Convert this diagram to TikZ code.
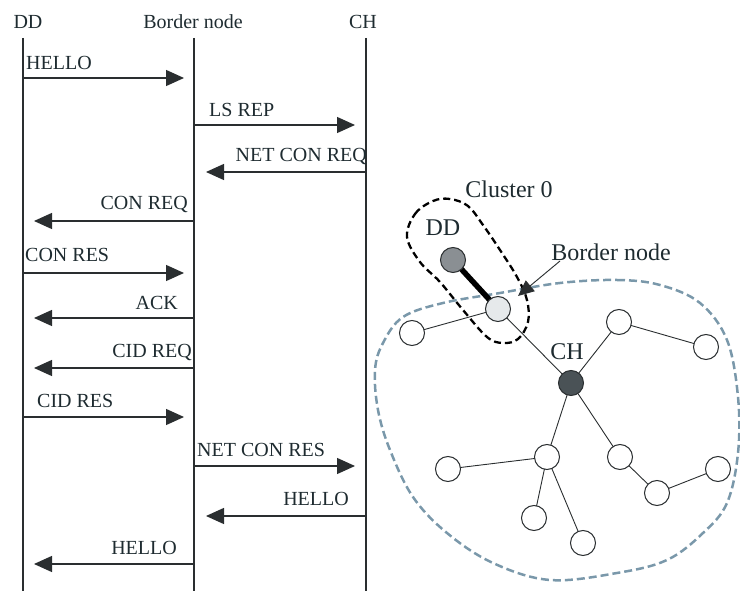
\documentclass[tikz,border=0pt]{standalone}
\usepackage{fontspec}
\setmainfont{Liberation Serif}
\usetikzlibrary{arrows.meta}
\definecolor{txt}{HTML}{1E2B30}
\definecolor{ln}{HTML}{2A2E30}
\definecolor{regioncol}{HTML}{7A98AA}
\definecolor{ddfill}{HTML}{8A8F93}
\definecolor{chfill}{HTML}{4A5256}
\definecolor{bnfill}{HTML}{E6E9EB}
\begin{document}
\begin{tikzpicture}[x=1pt,y=-1pt,
  lbl/.style={font=\fontsize{20}{22}\selectfont, text=txt, inner sep=0pt},
  rlbl/.style={font=\fontsize{24}{26}\selectfont, text=txt, inner sep=0pt},
  life/.style={draw=ln, line width=1.2pt},
  msg/.style={draw=ln, line width=1.3pt, -{Triangle[length=18pt,width=16pt]}},
  nd/.style={circle, draw=ln, line width=1pt, minimum size=25pt, inner sep=0pt, fill=white},
  link/.style={draw=ln, line width=0.9pt}]
\useasboundingbox (0,0) rectangle (740,593);
% ---------- sequence diagram ----------
\node[lbl] (hDD) at (28,22) {DD};
\node[lbl] (hBN) at (193,22) {Border node};
\node[lbl] (hCH) at (363,22) {CH};
\coordinate (dTop) at (23,38);  \coordinate (dBot) at (23,591);
\coordinate (bTop) at (194,38); \coordinate (bBot) at (194,591);
\coordinate (cTop) at (366,38); \coordinate (cBot) at (366,591);
\draw[life] (dTop) -- (dBot);
\draw[life] (bTop) -- (bBot);
\draw[life] (cTop) -- (cBot);
% messages
\coordinate (m1a) at (23,78);   \coordinate (m1b) at (184,78);
\coordinate (m2a) at (194,125); \coordinate (m2b) at (355,125);
\coordinate (m3a) at (366,172); \coordinate (m3b) at (206,172);
\coordinate (m4a) at (194,221); \coordinate (m4b) at (34,221);
\coordinate (m5a) at (23,273);  \coordinate (m5b) at (184,273);
\coordinate (m6a) at (194,318); \coordinate (m6b) at (34,318);
\coordinate (m7a) at (194,368); \coordinate (m7b) at (34,368);
\coordinate (m8a) at (23,417);  \coordinate (m8b) at (184,417);
\coordinate (m9a) at (194,466); \coordinate (m9b) at (355,466);
\coordinate (m10a) at (366,516); \coordinate (m10b) at (206,516);
\coordinate (m11a) at (194,564); \coordinate (m11b) at (34,564);
\foreach \i in {1,...,11} {\draw[msg] (m\i a) -- (m\i b);}
\node[lbl, anchor=west] (l1) at (26,63) {HELLO};
\node[lbl, anchor=west] (l2) at (209,110) {LS REP};
\node[lbl, anchor=east] (l3) at (367,157) {NET CON REQ};
\node[lbl, anchor=east] (l4) at (188,205) {CON REQ};
\node[lbl, anchor=west] (l5) at (25,255) {CON RES};
\node[lbl, anchor=east] (l6) at (178,303) {ACK};
\node[lbl, anchor=east] (l7) at (192,353) {CID REQ};
\node[lbl, anchor=west] (l8) at (37,401) {CID RES};
\node[lbl, anchor=west] (l9) at (197,450) {NET CON RES};
\node[lbl, anchor=east] (l10) at (349,499) {HELLO};
\node[lbl, anchor=east] (l11) at (177,548) {HELLO};
% ---------- network ----------
\draw[regioncol, line width=2.5pt, dash pattern=on 8pt off 4pt]
  plot[smooth cycle, tension=0.6] coordinates {
  (560,283) (617,280) (660,285) (700,303) (727,340) (738,397) (738,453)
  (727,503) (703,533) (667,560) (617,573) (550,580) (493,563) (447,533)
  (413,497) (390,450) (378,410) (375,370) (383,343) (403,317) (443,303) (500,293)};
\draw[black, line width=2.3pt, dash pattern=on 7pt off 4pt]
  plot[smooth cycle, tension=0.6] coordinates {
  (407,237) (415,214) (433,201) (450,199) (468,206) (483,225) (500,250)
  (517,277) (527,300) (528,322) (518,339) (503,343) (487,337) (463,310)
  (440,282) (420,262)};
\coordinate (pDD) at (453,260);
\coordinate (pBN) at (498,309);
\coordinate (pL) at (412,333);
\coordinate (pUR) at (619,322);
\coordinate (pFR) at (706,347);
\coordinate (pCH) at (571,383);
\coordinate (pA) at (547,457);
\coordinate (pFL) at (448,469);
\coordinate (pB1) at (534,518);
\coordinate (pB2) at (583,543);
\coordinate (pB) at (620,457);
\coordinate (pC) at (657,493);
\coordinate (pFR2) at (718,469);
\draw[black, line width=5.5pt] (pDD) -- (pBN);
\draw[link] (pBN) -- (pL);
\draw[link] (pBN) -- (pCH);
\draw[link] (pCH) -- (pUR);
\draw[link] (pUR) -- (pFR);
\draw[link] (pCH) -- (pA);
\draw[link] (pCH) -- (pB);
\draw[link] (pA) -- (pFL);
\draw[link] (pA) -- (pB1);
\draw[link] (pA) -- (pB2);
\draw[link] (pB) -- (pC);
\draw[link] (pC) -- (pFR2);
\node[nd, fill=ddfill] (nDD) at (pDD) {};
\node[nd, fill=bnfill] (nBN) at (pBN) {};
\node[nd] (nL) at (pL) {};
\node[nd] (nUR) at (pUR) {};
\node[nd] (nFR) at (pFR) {};
\node[nd, fill=chfill] (nCH) at (pCH) {};
\node[nd] (nA) at (pA) {};
\node[nd] (nFL) at (pFL) {};
\node[nd] (nB1) at (pB1) {};
\node[nd] (nB2) at (pB2) {};
\node[nd] (nB) at (pB) {};
\node[nd] (nC) at (pC) {};
\node[nd] (nFR2) at (pFR2) {};
\node[rlbl] (tCl) at (509,189) {Cluster 0};
\node[rlbl] (tDD) at (443,228) {DD};
\node[rlbl] (tBN) at (611,252) {Border node};
\node[rlbl] (tCH) at (567,352) {CH};
\coordinate (aFrom) at (560,261);
\coordinate (aTo) at (518,296);
\draw[ln, line width=0.9pt, -{Triangle[length=16pt,width=14pt]}] (aFrom) -- (aTo);
\end{tikzpicture}
\end{document}
